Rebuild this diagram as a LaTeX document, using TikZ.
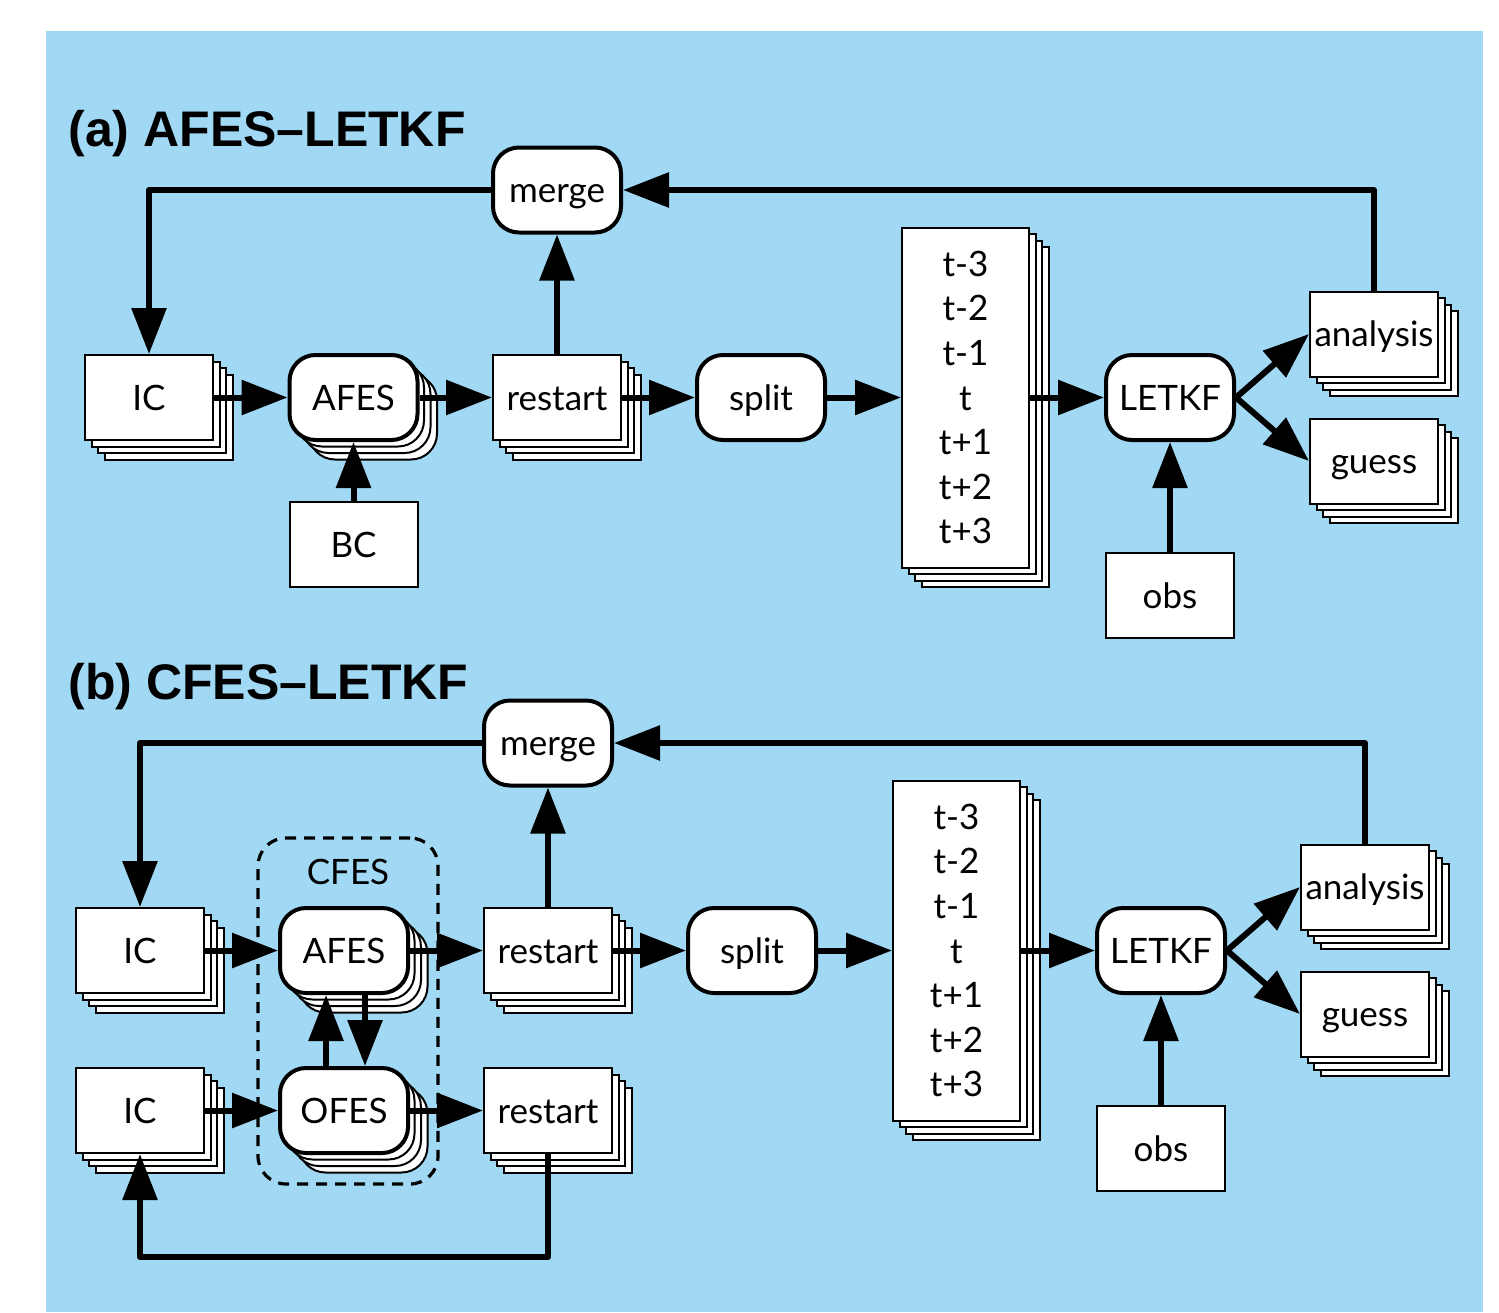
\documentclass[tikz,border=0pt]{standalone}
\usepackage{fontspec}
\usetikzlibrary{arrows.meta,shadows}
\newfontfamily\nodefont{Lato}
\newfontfamily\titlefont{Liberation Sans}
\definecolor{bgblue}{RGB}{161,217,245}
\tikzset{
  stk/.style={
    general shadow={shadow xshift=9.75pt,shadow yshift=-9.75pt,fill=white,draw=black,line width=1pt},
    general shadow={shadow xshift=6.5pt,shadow yshift=-6.5pt,fill=white,draw=black,line width=1pt},
    general shadow={shadow xshift=3.25pt,shadow yshift=-3.25pt,fill=white,draw=black,line width=1pt}},
  basic/.style={minimum width=64pt,minimum height=42.5pt,inner sep=0pt,fill=white,draw=black,
    font=\nodefont\fontsize{17.5}{22.3}\selectfont},
  ctr/.style={text height=12.5pt,text depth=0pt},
  box/.style={basic,ctr,line width=1pt},
  rbox/.style={basic,ctr,line width=2pt,rounded corners=13pt},
  tbox/.style={basic,line width=1pt,minimum width=63.5pt,minimum height=170pt,align=center},
  lbl/.style={inner sep=0pt,ctr,font=\nodefont\fontsize{17.5}{22.3}\selectfont},
  cfesbox/.style={draw=black,line width=1.6pt,dash pattern=on 5.5pt off 4pt,rounded corners=14pt,
    minimum width=90pt,minimum height=173pt,inner sep=0pt},
  conn/.style={line width=3pt,line join=round,-{Triangle[length=23pt,width=17pt]}},
  ttl/.style={anchor=base west,inner sep=0pt,font=\titlefont\bfseries\fontsize{25}{30}\selectfont},
}
\begin{document}
\begin{tikzpicture}[x=0.5pt,y=-0.5pt]
\useasboundingbox (0,0) rectangle (1499,1312);
\fill[white] (0,0) rectangle (1499,1312);
\fill[bgblue] (46,31) rectangle (1483,1312);

% ---------------- panel (a)
\node[ttl] (ttlA) at (68,146) {(a) AFES–LETKF};
\node[box,stk] (icA) at (149,397.5) {IC};
\node[rbox,stk] (afesA) at (353.5,397.5) {AFES};
\node[box,stk] (rsA) at (557,397.5) {restart};
\node[rbox] (spA) at (761,397.5) {split};
\node[tbox,stk] (tA) at (965.5,397.5) {t-3\\t-2\\t-1\\t\\t+1\\t+2\\t+3};
\node[rbox] (lkA) at (1170,397.5) {LETKF};
\node[box,stk] (anA) at (1374,334) {analysis};
\node[box,stk] (guA) at (1374,461) {guess};
\node[rbox] (mgA) at (557,190) {merge};
\node[box] (bcA) at (353.5,544.5) {BC};
\node[box] (obA) at (1170,595.5) {obs};

\draw[conn] (mgA.west) -| (icA.north);
\draw[conn] (anA.north) |- (mgA.east);
\draw[conn] (rsA.north) -- (mgA.south);
\draw[conn] (icA.east) -- (afesA.west);
\draw[conn] (afesA.east) -- (rsA.west);
\draw[conn] (rsA.east) -- (spA.west);
\draw[conn] (spA.east) -- (tA.west);
\draw[conn] (tA.east) -- (lkA.west);
\draw[conn] (lkA.east) -- (anA.west);
\draw[conn] (lkA.east) -- (guA.west);
\draw[conn] (bcA.north) -- (afesA.south);
\draw[conn] (obA.north) -- (lkA.south);

% ---------------- panel (b)
\node[ttl] (ttlB) at (68,699) {(b) CFES–LETKF};
\node[cfesbox] (cfes) at (348,1011) {};
\node[lbl] (cfeslbl) at (348,872) {CFES};
\node[rbox] (mgB) at (548,743) {merge};
\node[box,stk] (icB) at (140,950.5) {IC};
\node[rbox,stk] (afesB) at (344,950.5) {AFES};
\node[box,stk] (rsB) at (548,950.5) {restart};
\node[rbox] (spB) at (752,950.5) {split};
\node[tbox,stk] (tB) at (956.5,950.5) {t-3\\t-2\\t-1\\t\\t+1\\t+2\\t+3};
\node[rbox] (lkB) at (1161,950.5) {LETKF};
\node[box,stk] (anB) at (1365,887) {analysis};
\node[box,stk] (guB) at (1365,1014) {guess};
\node[box] (obB) at (1161,1148.5) {obs};
\node[box,stk] (icC) at (140,1110.5) {IC};
\node[rbox,stk] (ofes) at (344,1110.5) {OFES};
\node[box,stk] (rsC) at (548,1110.5) {restart};
\coordinate (loop) at (548,1257);

\draw[conn] (mgB.west) -| (icB.north);
\draw[conn] (anB.north) |- (mgB.east);
\draw[conn] (rsB.north) -- (mgB.south);
\draw[conn] (icB.east) -- (afesB.west);
\draw[conn] (afesB.east) -- (rsB.west);
\draw[conn] (rsB.east) -- (spB.west);
\draw[conn] (spB.east) -- (tB.west);
\draw[conn] (tB.east) -- (lkB.west);
\draw[conn] (lkB.east) -- (anB.west);
\draw[conn] (lkB.east) -- (guB.west);
\draw[conn] (obB.north) -- (lkB.south);
\draw[conn] ([xshift=-9pt]ofes.north) -- ([xshift=-9pt]afesB.south);
\draw[conn] ([xshift=10.5pt]afesB.south) -- ([xshift=10.5pt]ofes.north);
\draw[conn] (icC.east) -- (ofes.west);
\draw[conn] (ofes.east) -- (rsC.west);
\draw[conn] (rsC.south) -- (loop) -| (icC.south);
\end{tikzpicture}
\end{document}
